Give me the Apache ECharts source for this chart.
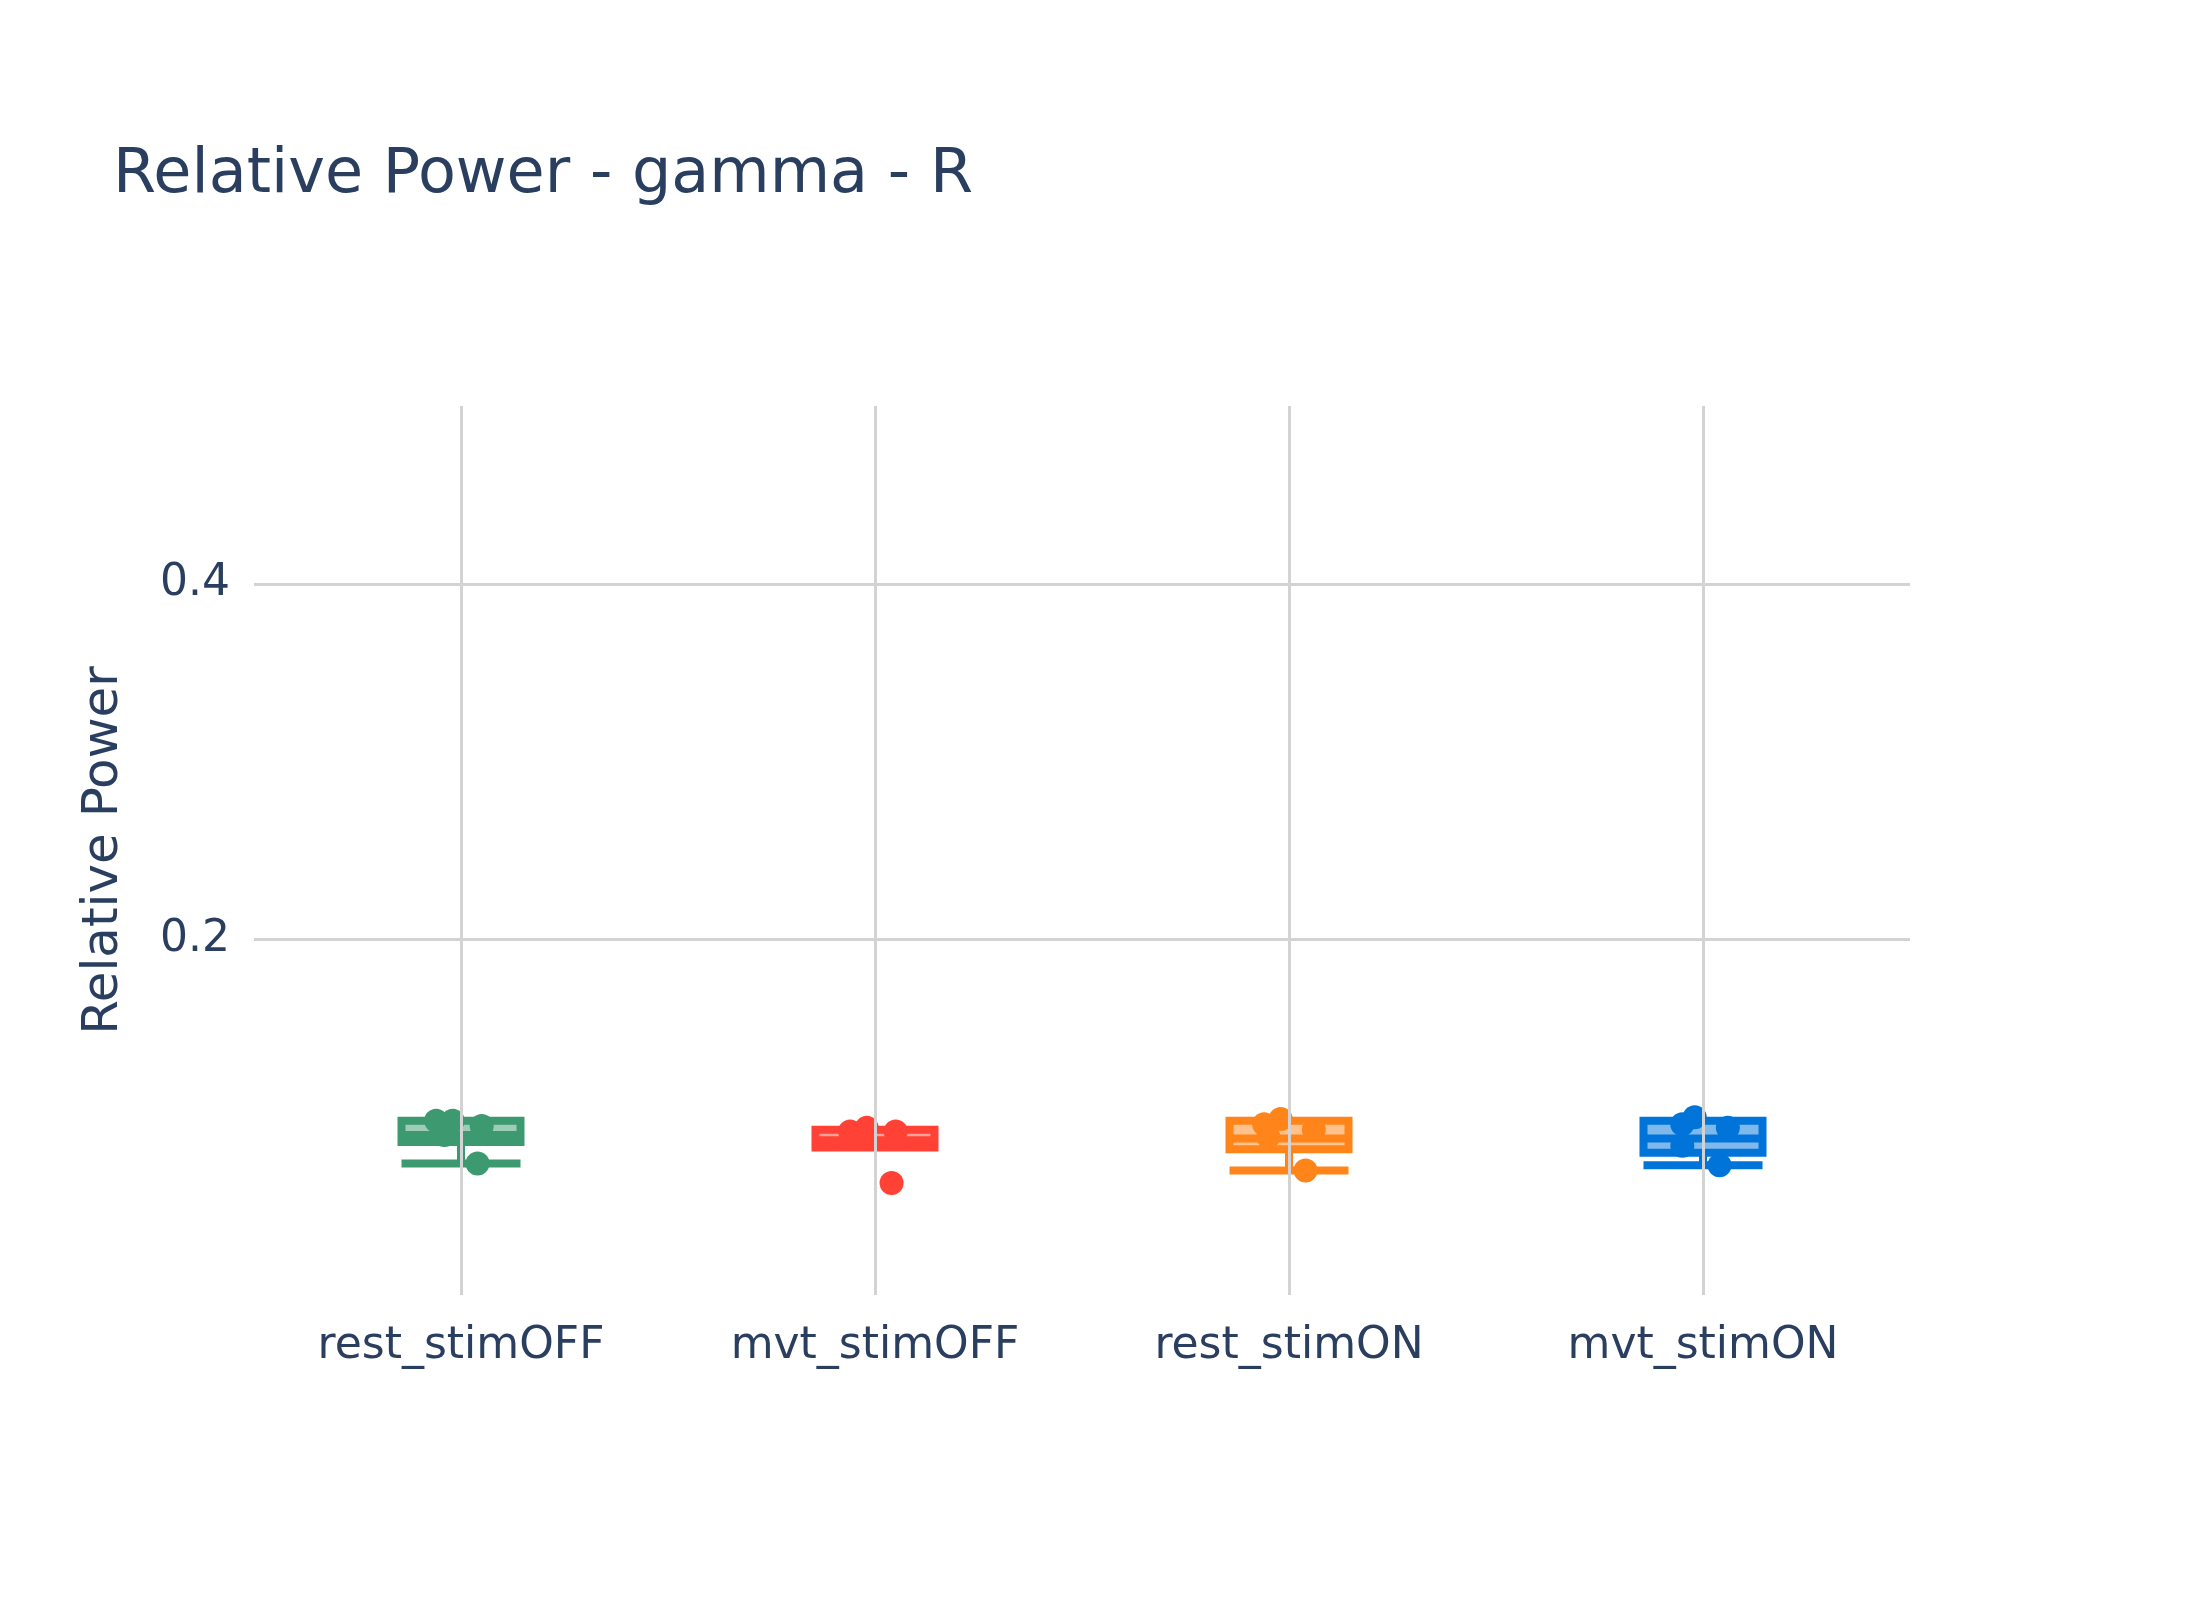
<!DOCTYPE html>
<html>
<head>
<meta charset="utf-8">
<script src="https://cdn.jsdelivr.net/npm/echarts@6/dist/echarts.min.js"></script>
<style>html,body{margin:0;background:#fff}#chart{width:2200px;height:1600px}</style>
</head>
<body>
<div id="chart"></div>
<script>
const categories = ['rest_stimOFF', 'mvt_stimOFF', 'rest_stimON', 'mvt_stimON'];
const colors = ['#3D9970', '#FF4136', '#FF851B', '#0074D9'];
// [min, Q1, median, Q3, max]
const boxStats = [
  [0.074, 0.086, 0.090, 0.098, 0.098],
  [0.083, 0.083, 0.087, 0.093, 0.093],
  [0.070, 0.082, 0.088, 0.098, 0.098],
  [0.073, 0.080, 0.088, 0.098, 0.098]
];
const pointValues = [
  [0.098, 0.098, 0.095, 0.090, 0.074],
  [0.092, 0.094, 0.092, 0.063],
  [0.096, 0.099, 0.093, 0.089, 0.070],
  [0.100, 0.096, 0.094, 0.084, 0.073]
];
const pointJitter = [
  [-0.06, -0.02, 0.05, -0.04, 0.04],
  [-0.06, -0.02, 0.05, 0.04],
  [-0.06, -0.02, 0.06, -0.05, 0.04],
  [-0.02, -0.05, 0.06, -0.05, 0.04]
];

const chart = echarts.init(document.getElementById('chart'));
const font = '"DejaVu Sans", Verdana, sans-serif';
const textColor = '#2a3f5f';

const series = [{
  type: 'boxplot', xAxisIndex: 0, yAxisIndex: 0,
  boxWidth: [119, 119],
  data: boxStats.map((s, i) => ({
    value: s,
    itemStyle: { color: echarts.color.modifyAlpha(colors[i], 0.5), borderColor: colors[i], borderWidth: 8 }
  })),
  z: 3
}];
categories.forEach((c, i) => {
  series.push({
    type: 'scatter', xAxisIndex: 1, yAxisIndex: 0,
    symbolSize: 24,
    itemStyle: { color: colors[i], opacity: 1 },
    data: pointValues[i].map((v, k) => [i + pointJitter[i][k], v]),
    z: 4
  });
});
series.push({
  type: 'scatter', xAxisIndex: 1, yAxisIndex: 0, data: [], silent: true,
  markLine: {
    symbol: 'none', silent: true, label: { show: false },
    lineStyle: { color: '#d3d3d3', width: 3, type: 'solid' },
    data: categories.map((_, i) => ({ xAxis: i }))
  },
  z: 1
});

chart.setOption({
  title: {
    text: 'Relative Power - gamma - R', left: 108, top: 140,
    textStyle: { fontFamily: font, fontSize: 62, fontWeight: 'normal', color: textColor }
  },
  grid: { left: 254, right: 290, top: 406, bottom: 305 },
  xAxis: [
    {
      type: 'category', data: categories,
      axisLine: { show: false }, axisTick: { show: false },
      axisLabel: { fontFamily: font, fontSize: 44, color: textColor, margin: 30 }
    },
    { type: 'value', min: -0.5, max: 3.5, show: false }
  ],
  yAxis: {
    type: 'value', min: 0, max: 0.5, interval: 0.2,
    name: 'Relative Power', nameLocation: 'middle', nameGap: 125,
    nameTextStyle: { fontFamily: font, fontSize: 50, color: textColor },
    axisLine: { show: false }, axisTick: { show: false },
    axisLabel: {
      fontFamily: font, fontSize: 44, color: textColor, margin: 24,
      showMinLabel: false, showMaxLabel: false,
      formatter: v => v.toFixed(1)
    },
    splitLine: { lineStyle: { color: ['transparent', '#d3d3d3', '#d3d3d3', 'transparent'], width: 3 } }
  },
  series: series
});
</script>
</body>
</html>
